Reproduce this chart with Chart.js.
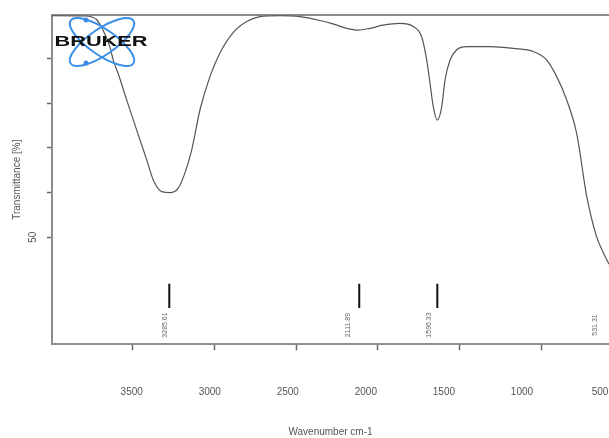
<!DOCTYPE html>
<html><head><meta charset="utf-8">
<script src="https://cdn.jsdelivr.net/npm/chart.js@4"></script>
<style>html,body{margin:0;padding:0;background:#fff;overflow:hidden}</style>
</head><body>
<canvas id="c" width="609" height="438"></canvas>
<script>
// Spectrum
const wavenumbers = [3994, 3792, 3720, 3682, 3639, 3619, 3590, 3537, 3476, 3414, 3374, 3322, 3272, 3221, 3180, 3139, 3088, 3027, 2966, 2886, 2802, 2721, 2598, 2476, 2373, 2274, 2190, 2119, 2047, 1968, 1864, 1782, 1731, 1700, 1680, 1660, 1635, 1608, 1588, 1557, 1516, 1455, 1312, 1170, 1047, 965, 904, 843, 782, 720, 663, 621, 584];
const transmittance = [99.5, 99.45, 98.6, 96.3, 92.5, 89.6, 86.7, 80.7, 74.0, 67.3, 62.8, 60.2, 60.0, 61.0, 64.4, 69.5, 78.5, 85.9, 91.2, 95.7, 98.2, 99.3, 99.5, 99.3, 98.6, 97.7, 96.7, 96.3, 96.7, 97.4, 97.8, 97.1, 94.8, 89.6, 84.5, 79.2, 76.2, 79.2, 85.1, 89.6, 91.9, 92.6, 92.6, 92.2, 91.5, 89.6, 85.9, 80.7, 73.2, 59.1, 50.5, 46.7, 44.0];
const xTickValues = [3500, 3000, 2500, 2000, 1500, 1000, 500];
const yTickValues = [50, 60, 70, 80, 90];
const yLabelled = [50];
const peakLabels = ['3285.61', '2111.89', '1596.33', '531.31'];
const peakValues = [3285.61, 2111.89, 1596.33, 531.31];
const peakMarkX = [3276, 2113, 1635, 517];
const markerTop = 39.6, markerBottom = 34.2;

const FONT = '"Liberation Sans", Arial, sans-serif';
const AXIS = '#8c8c8c';
const TXT = '#555';

const curve = wavenumbers.map((x, i) => ({x, y: transmittance[i]}));
const markers = [];
peakMarkX.forEach(x => { markers.push({x, y: markerTop}, {x, y: markerBottom}, {x, y: null}); });

const ticksFrom = vals => s => { s.ticks = vals.filter(v => v >= s.min && v <= s.max).map(v => ({value: v})); };

const overlay = {
  id: 'overlay',
  afterDatasetsDraw(chart) {
    const ctx = chart.ctx;
    const xl = chart.scales.xLab;
    ctx.save();
    // peak labels
    ctx.fillStyle = '#666';
    ctx.font = '7px ' + FONT;
    ctx.textAlign = 'center';
    ctx.textBaseline = 'middle';
    peakValues.forEach((v, i) => {
      const px = xl.getPixelForValue(v);
      ctx.save();
      ctx.translate(px, 325);
      ctx.rotate(-Math.PI / 2);
      ctx.fillText(peakLabels[i], 0, 0);
      ctx.restore();
    });
    // logo
    ctx.strokeStyle = '#3b8fe8';
    ctx.lineWidth = 2;
    ctx.beginPath(); ctx.ellipse(102, 42, 38, 13, 0.6, 0, 2 * Math.PI); ctx.stroke();
    ctx.beginPath(); ctx.ellipse(102, 42, 38, 13, -0.6, 0, 2 * Math.PI); ctx.stroke();
    ctx.fillStyle = '#3b8fe8';
    ctx.beginPath(); ctx.arc(86, 20, 2.5, 0, 2 * Math.PI); ctx.fill();
    ctx.beginPath(); ctx.arc(86, 63, 2.5, 0, 2 * Math.PI); ctx.fill();
    ctx.fillStyle = '#111';
    ctx.font = 'bold 15px ' + FONT;
    ctx.textAlign = 'center';
    ctx.textBaseline = 'middle';
    ctx.translate(101, 42);
    ctx.scale(1.45, 1);
    ctx.fillText('BRUKER', 0, 0);
    ctx.restore();
  }
};

new Chart(document.getElementById('c'), {
  type: 'line',
  data: {
    datasets: [
      {data: curve, borderColor: '#555', borderWidth: 1.2, pointRadius: 0, cubicInterpolationMode: 'monotone', xAxisID: 'x', yAxisID: 'y'},
      {data: markers, borderColor: '#111', borderWidth: 2, pointRadius: 0, spanGaps: false, xAxisID: 'x', yAxisID: 'y'}
    ]
  },
  options: {
    responsive: false,
    animation: false,
    events: [],
    layout: {padding: {top: 15, left: 0, right: 0, bottom: 0}},
    plugins: {legend: {display: false}, tooltip: {enabled: false}},
    scales: {
      x: {
        type: 'linear', position: 'bottom', reverse: true, min: 584, max: 3994, weight: 0,
        afterBuildTicks: ticksFrom(xTickValues),
        ticks: {display: false},
        grid: {display: true, drawOnChartArea: false, drawTicks: true, tickLength: 6, tickColor: '#666', tickWidth: 1.5},
        border: {display: true, color: AXIS, width: 2},
        afterFit: s => { s.height = 6; s.paddingLeft = 0; s.paddingRight = 0; }
      },
      xLab: {
        type: 'linear', position: 'bottom', reverse: true, min: 442.3, max: 4010.6, weight: 1,
        afterBuildTicks: ticksFrom(xTickValues),
        ticks: {callback: v => String(v), padding: 36, font: {size: 10, family: FONT}, color: TXT, maxRotation: 0, autoSkip: false},
        grid: {display: false, drawTicks: false},
        border: {display: false},
        title: {display: true, text: 'Wavenumber cm-1', font: {size: 10, family: FONT}, color: TXT, padding: {top: 0, bottom: 0}},
        afterFit: s => { s.height = 87.7; s.paddingLeft = 0; s.paddingRight = 0; }
      },
      xTop: {
        type: 'linear', position: 'top', min: 0, max: 1,
        ticks: {display: false},
        grid: {display: false, drawTicks: false},
        border: {display: true, color: AXIS, width: 2},
        afterFit: s => { s.height = 0; s.paddingLeft = 0; s.paddingRight = 0; }
      },
      y: {
        type: 'linear', position: 'left', min: 26.09, max: 99.67,
        afterBuildTicks: ticksFrom(yTickValues),
        ticks: {callback: v => yLabelled.includes(v) ? String(v) : '', minRotation: 90, maxRotation: 90, crossAlign: 'center', padding: 8, font: {size: 10, family: FONT}, color: TXT},
        grid: {drawOnChartArea: false, tickLength: 5, tickColor: '#666', tickWidth: 1.5},
        border: {display: true, color: AXIS, width: 2},
        title: {display: true, text: 'Transmittance [%]', font: {size: 10, family: FONT}, color: TXT, padding: {top: 11, bottom: 0}},
        afterFit: s => { s.width = 52; s.paddingTop = 0; s.paddingBottom = 0; }
      }
    }
  },
  plugins: [overlay]
});
</script>
</body></html>
